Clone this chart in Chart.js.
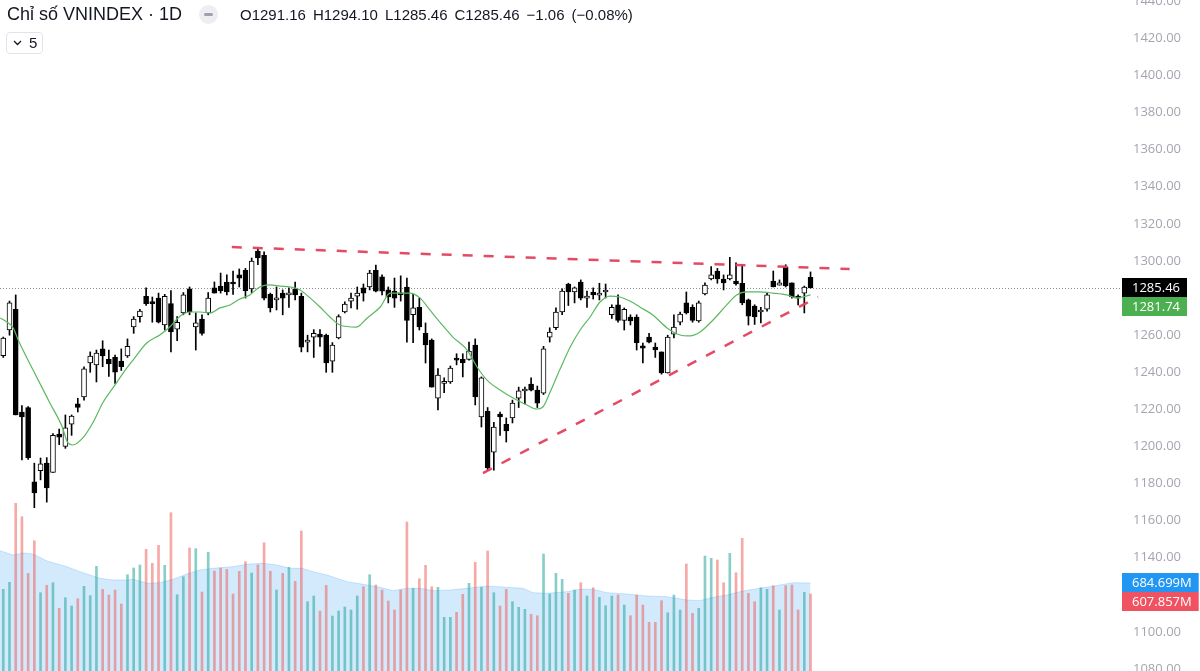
<!DOCTYPE html>
<html><head><meta charset="utf-8">
<script src="https://cdn.jsdelivr.net/npm/chart.js@4.4.1/dist/chart.umd.min.js"></script>
<style>
html,body{margin:0;padding:0;background:#fff;}
#wrap{position:relative;width:1200px;height:671px;overflow:hidden;background:#fff;}
#c{position:absolute;left:0;top:0;}
.t{position:absolute;font-family:"Liberation Sans",Arial,sans-serif;color:#131722;white-space:nowrap;}
#title{left:7px;top:2px;font-size:18px;line-height:24px;}
#ohlc{left:240px;top:5px;font-size:15px;line-height:20px;}
#ohlc span{margin-right:7px;}
#icon{position:absolute;left:199px;top:5px;width:19px;height:19px;border-radius:50%;background:#eceef1;}
#icon i{position:absolute;left:5px;top:8px;width:9px;height:3px;border-radius:1.5px;background:#9ea1a9;}
#ind{position:absolute;left:6px;top:32px;width:35px;height:20px;border:1px solid #e0e3eb;border-radius:4px;background:#fff;}
#ind svg{position:absolute;left:6px;top:7px;}
#ind span{position:absolute;left:22px;top:0px;font-family:"Liberation Sans",Arial,sans-serif;font-size:15px;line-height:20px;color:#131722;}
</style></head>
<body>
<div id="wrap">
<canvas id="c" width="1200" height="671"></canvas>
<div class="t" id="title">Chỉ số VNINDEX · 1D</div>
<div id="icon"><i></i></div>
<div class="t" id="ohlc"><span>O1291.16</span><span>H1294.10</span><span>L1285.46</span><span>C1285.46</span><span>−1.06</span><span>(−0.08%)</span></div>
<div id="ind"><svg width="9" height="6" viewBox="0 0 9 6"><path d="M1 1 L4.5 4.5 L8 1" fill="none" stroke="#131722" stroke-width="1.3"/></svg><span>5</span></div>
</div>
<script>
// ---- price data (one entry per daily candle) ----
const opens = [1249.0,1262.8,1274.0,1218.6,1221.0,1181.0,1187.0,1191.0,1186.0,1206.7,
1200.0,1212.0,1223.0,1226.7,1245.0,1244.0,1252.6,1247.0,1248.0,1246.0,
1248.8,1264.4,1270.0,1281.0,1278.0,1280.0,1265.5,1277.0,1263.3,1272.0,
1285.0,1264.4,1268.7,1272.0,1285.5,1286.5,1288.7,1288.7,1292.5,1295.0,
1285.0,1305.4,1303.0,1282.0,1279.0,1282.7,1281.7,1285.0,1281.0,1256.3,
1259.0,1260.6,1260.0,1246.0,1258.5,1272.5,1278.4,1281.0,1285.5,1286.0,
1295.0,1291.4,1284.4,1283.8,1282.7,1286.0,1271.0,1275.0,1261.0,1257.4,
1226.0,1234.0,1234.8,1247.6,1247.0,1247.0,1254.7,1216.0,1219.0,1197.0,
1217.5,1212.0,1215.4,1226.0,1229.9,1233.7,1230.4,1228.8,1259.0,1264.0,
1272.5,1287.6,1283.3,1288.7,1280.0,1283.3,1281.6,1283.3,1271.0,1276.4,
1268.0,1269.8,1269.8,1254.2,1259.0,1253.6,1251.0,1239.6,1260.6,1267.0,
1277.4,1275.0,1267.7,1282.2,1290.3,1294.6,1290.3,1290.3,1289.2,1288.0,
1279.0,1275.7,1272.5,1274.0,1289.2,1287.0,1296.8,1288.2,1280.3,1282.7,
1291.16];
const highs = [1259,1278.4,1281.7,1222,1221.5,1191,1193.8,1194,1207,1209.4,
1217,1217,1226,1243,1251,1252,1257,1252,1249.3,1252.6,
1258,1270,1274,1285.5,1280.6,1282.7,1282,1284,1270,1283,
1286,1272,1271,1283,1288.7,1293.5,1292.5,1294.6,1295.7,1296,
1301.6,1306.5,1305,1282.7,1286,1284.4,1285.5,1288.7,1282.7,1260,
1263,1263,1260.6,1256,1271,1278,1282.7,1286,1287.6,1295,
1297.8,1292.5,1286,1290.8,1292,1290.8,1282,1280,1266.6,1258,
1242,1237,1243.4,1250,1250,1256.3,1258,1237.5,1221,1213,
1218.6,1215.4,1225,1232,1232,1237,1232.6,1254,1264,1274.7,
1285,1288,1286,1289.8,1283.8,1285.5,1288,1287.6,1276.4,1281.7,
1274.7,1271,1271,1255.8,1261,1255.8,1251,1260,1271,1272.5,
1283.3,1276.4,1278.4,1288.2,1297,1296,1292.5,1302,1299,1298,
1279.5,1276.4,1275,1283,1294.6,1289.8,1298,1288.2,1281.7,1286.5,
1294.10];
const lows = [1248,1260,1217,1192.7,1193,1167,1182,1170,1186,1201,
1199,1206,1218.6,1225,1240,1234.8,1243,1237.8,1234,1241,
1248,1261,1267,1276,1267,1266.6,1262.8,1251,1257,1271,
1271,1252,1260,1271,1282.7,1282.7,1281.7,1282,1286,1280,
1283,1298,1279,1272.5,1273.6,1271,1275,1279,1251,1251,
1248,1254,1240,1240,1258,1272,1274.7,1274,1278.4,1284.4,
1283.3,1281.7,1277.4,1275,1278.4,1256.3,1256,1262.8,1245,1232,
1219.7,1229,1234,1244,1237.5,1246.6,1222.4,1210.5,1187.3,1187.3,
1206,1202.4,1212.7,1221,1223,1230,1221,1228,1256.3,1263,
1271,1276,1277.4,1279,1275,1279.5,1279,1280,1269,1267,
1262.8,1265.5,1252,1245,1255.8,1248,1239,1239.6,1258.5,1265.5,
1271.4,1267,1267,1281.7,1289.8,1288,1284.4,1289.8,1287,1276.4,
1265.5,1265.8,1266.6,1273,1286,1287,1286,1280,1276.3,1272,
1285.46];
const closes = [1258.5,1277.4,1217.0,1216.0,1194.0,1175.0,1190.7,1177.6,1206.0,1205.0,
1210.0,1216.4,1221.0,1241.8,1248.8,1250.4,1248.8,1244.5,1240.0,1243.0,
1254.0,1268.7,1273.0,1277.0,1277.0,1267.0,1281.0,1261.7,1267.0,1281.7,
1272.5,1266.6,1261.0,1280.0,1282.7,1284.0,1283.3,1287.6,1290.8,1284.0,
1300.0,1301.6,1280.0,1274.7,1279.5,1280.0,1282.7,1281.7,1253.6,1256.8,
1261.0,1259.0,1245.0,1254.7,1270.0,1276.8,1280.0,1282.7,1282.7,1293.5,
1283.8,1283.8,1280.6,1280.0,1281.7,1268.0,1274.7,1264.4,1254.7,1232.0,
1238.5,1234.4,1242.3,1246.6,1245.0,1251.5,1226.7,1237.0,1188.4,1210.5,
1216.0,1208.4,1223.4,1230.0,1231.0,1230.4,1223.4,1252.6,1261.7,1272.5,
1283.8,1283.3,1285.5,1280.0,1280.6,1281.7,1281.7,1283.4,1275.0,1268.0,
1274.0,1267.7,1256.0,1253.0,1256.3,1252.0,1239.6,1259.0,1264.4,1271.4,
1272.0,1268.0,1277.4,1287.0,1292.5,1290.3,1288.2,1292.5,1287.6,1277.4,
1270.3,1269.8,1272.6,1281.7,1286.0,1288.2,1286.5,1280.6,1280.0,1286.0,
1285.46];
// volume, millions
const volumes = [640.5,689.5,1242.5,1148.7,752.5,980.7,616.7,668.5,686.7,507.5,
581.7,523.6,574.7,661.5,595.7,801.5,640.5,600.6,635.6,537.6,
742.7,789.6,810.6,920.5,822.5,948.5,808.5,1176.7,602.7,728.7,
929.6,924.7,621.6,899.5,768.6,789.6,780.5,607.6,766.5,833.7,
754.6,810.6,966.7,766.5,635.6,752.5,794.5,696.5,1048.6,553.7,
593.6,488.6,668.5,453.6,488.6,516.6,495.6,593.6,658.7,742.7,
670.6,635.6,558.6,495.6,635.6,1111.6,647.5,714.7,808.5,658.7,
654.5,444.5,444.5,479.5,605.5,682.5,829.5,654.5,908.6,616.7,
523.6,640.5,553.7,514.5,500.5,465.5,455.7,887.6,607.6,752.5,
710.5,612.5,635.6,686.7,593.6,651.7,584.5,525.7,593.6,600.6,
530.6,455.7,600.6,530.6,409.5,409.5,560.7,476.7,600.6,495.6,
817.6,472.5,507.5,873.6,857.5,845.6,686.7,892.5,756.7,997.5,
612.5,553.7,651.7,640.5,665.7,495.6,665.7,670.6,495.6,619.5,
607.857];
// green moving-average line (candle index, value)
const maX = [-0.5,0.6,1.6,2.4,4.8,7.5,9.5,10.4,11.2,12.8,14.4,16.1,18,19.3,20.9,23.1,25.2,26.8,28.5,30.1,31.7,33.3,34.9,36.5,38.1,39.7,41.3,42.9,44.6,46.2,47.8,49.4,51,52.6,54.2,56.9,58.6,60.7,62.3,63.9,65.5,67.1,68.7,70.3,72.4,74.7,76.4,77.9,80,82.1,84.3,85.9,86.9,88,89.6,91.3,92.9,94.5,96.1,97.7,99.3,100.9,102.5,104.6,106.9,109,110.6,112.2,114.3,116.5,118.1,119.8,121.8,123.9,126.2,127.8,130];
const maY = [1269.3,1267.1,1263.9,1257.4,1241.2,1223.5,1210.5,1201.9,1200.8,1204.6,1212.7,1224,1233.2,1239.6,1246.6,1255.8,1260.1,1264.4,1270.4,1272.5,1272.5,1272,1274.7,1276.3,1279.5,1281.7,1286,1287.1,1286.5,1286,1284.4,1280.1,1275.2,1269.8,1265.5,1264.4,1269.3,1275.2,1282.7,1282.7,1282.7,1280.1,1273.6,1267.1,1259,1252,1242.3,1235.8,1230.5,1226.1,1222.4,1220.2,1221.3,1228.8,1241.2,1253.6,1262.8,1269.8,1277.9,1281.1,1280.6,1278.4,1275.2,1270.9,1263.9,1260.1,1259.6,1261.7,1268.2,1276.3,1281.7,1283.3,1283.3,1282.7,1281.7,1280.1,1281.74];
// volume moving-average area (candle index, millions)
const vmaX = [-0.53,1.56,3.17,4.78,7.04,10.26,12.35,15.57,17.66,19.92,20.89,23.14,25.23,27.33,29.58,31.67,33.77,36.99,39.24,41.82,44.07,46.17,48.1,49.87,52.12,55.35,57.92,60.66,62.75,65.01,67.1,69.2,71.93,74.67,77.89,81.11,83.69,85.3,87.55,90.77,92.86,94.96,97.21,100.43,103.65,106.87,110.09,112.19,114.28,116.53,118.63,120.72,122.97,125.07,127.16,130];
const vmaY = [910.7,880.6,894.6,887.6,838.6,798.7,763.7,717.5,705.6,705.6,710.5,682.5,686.7,710.5,747.6,775.6,787.5,798.7,815.5,822.5,810.6,787.5,787.5,763.7,740.6,693.7,675.5,654.5,630.7,647.5,647.5,630.7,635.6,647.5,663.6,654.5,647.5,616.7,612.5,623.7,640.5,640.5,616.7,607.6,593.6,588.7,565.6,560.7,584.5,600.6,623.7,640.5,654.5,670.6,686.7,684.699];
// hand-drawn trend lines (candle index, price)
const upperTrendX = [36.8, 136.3];
const upperTrendY = [1307.5, 1295.7];
const lowerTrendX = [77.25, 131.2];
const lowerTrendY = [1185.7, 1280.6];
// price axis ticks
const priceTicks = [1080,1100,1120,1140,1160,1180,1200,1220,1240,1260,1280,1300,1320,1340,1360,1380,1400,1420,1440];

const up = closes.map((c,i)=>c>=opens[i]);
const bodyData = opens.map((o,i)=>({x:i, y:[o, closes[i]]}));
const wickData = lows.map((l,i)=>({x:i, y:[l, highs[i]]}));
const volData = volumes.map((v,i)=>({x:i, y:v}));
const maData = maX.map((x,i)=>({x, y:maY[i]}));
const vmaData = vmaX.map((x,i)=>({x, y:vmaY[i]}));
const upData = upperTrendX.map((x,i)=>({x, y:upperTrendY[i]}));
const loData = lowerTrendX.map((x,i)=>({x, y:lowerTrendY[i]}));

const LABEL_FONT = '13px "Open Sans", "Noto Sans", sans-serif';

function drawBoxes(ctx, items, left){
  items.sort((a,b)=>a.y-b.y);
  let prevBottom = -1e9;
  ctx.font = LABEL_FONT;
  ctx.textBaseline = 'middle';
  ctx.textAlign = 'left';
  for(const it of items){
    const h = 19;
    let top = it.y - h/2;
    if(top < prevBottom) top = prevBottom;
    const w = ctx.measureText(it.text).width + 17;
    ctx.fillStyle = it.bg;
    ctx.fillRect(left, Math.round(top), w, h);
    ctx.fillStyle = '#ffffff';
    ctx.fillText(it.text, left + 10, Math.round(top) + h/2 + 0.5);
    prevBottom = top + h;
  }
}

const overlay = {
  id:'overlay',
  beforeDatasetsDraw(chart){
    const {ctx, chartArea, scales} = chart;
    const y = Math.round(scales.y.getPixelForValue(closes[closes.length-1])) + 0.5;
    ctx.save();
    ctx.strokeStyle = '#8a8e97';
    ctx.lineWidth = 1;
    ctx.setLineDash([1,2]);
    ctx.beginPath(); ctx.moveTo(chartArea.left, y); ctx.lineTo(chartArea.right, y); ctx.stroke();
    ctx.restore();
  },
  afterDraw(chart){
    const {ctx, chartArea, scales} = chart;
    const left = chartArea.right + 1;
    ctx.save();
    const lastC = closes[closes.length-1], lastMA = maY[maY.length-1];
    drawBoxes(ctx, [
      {y: scales.y.getPixelForValue(lastC), text: lastC.toFixed(2), bg:'#000000'},
      {y: scales.y.getPixelForValue(lastMA), text: lastMA.toFixed(2), bg:'#4caf50'}
    ], left);
    const lastV = volumes[volumes.length-1], lastVMA = vmaY[vmaY.length-1];
    drawBoxes(ctx, [
      {y: scales.yv.getPixelForValue(lastVMA), text: lastVMA.toFixed(3)+'M', bg:'#2196f3'},
      {y: scales.yv.getPixelForValue(lastV), text: lastV.toFixed(3)+'M', bg:'#f05262'}
    ], left);
    ctx.restore();
  }
};

function build(){
  new Chart(document.getElementById('c'), {
    type:'bar',
    data:{ datasets:[
      {type:'line', data:upData, borderColor:'rgba(228,64,92,0.95)', borderWidth:2.5, borderDash:[10,11], pointRadius:0, order:0, yAxisID:'y'},
      {type:'line', data:loData, borderColor:'rgba(228,64,92,0.95)', borderWidth:2.5, borderDash:[10,11], pointRadius:0, order:0, yAxisID:'y'},
      {type:'line', data:maData, borderColor:'#5cb860', borderWidth:1.2, pointRadius:0, tension:0.4, cubicInterpolationMode:'monotone', order:1, yAxisID:'y'},
      {type:'bar', data:bodyData, backgroundColor: up.map(u=>u?'#ffffff':'#000000'), borderColor:'#000000', borderWidth:1, borderSkipped:false,
        barThickness:5, grouped:false, minBarLength:2, order:2, yAxisID:'y'},
      {type:'bar', data:wickData, backgroundColor:'#000000', borderWidth:0, barThickness:1, grouped:false, order:3, yAxisID:'y'},
      {type:'bar', data:volData, backgroundColor: up.map(u=>u?'rgba(38,166,154,0.55)':'rgba(239,83,80,0.5)'), borderWidth:0,
        barThickness:2, grouped:false, order:4, yAxisID:'yv'},
      {type:'line', data:vmaData, borderColor:'rgba(33,150,243,0.22)', backgroundColor:'rgba(33,150,243,0.2)', borderWidth:1,
        fill:'start', pointRadius:0, tension:0, order:5, yAxisID:'yv'}
    ]},
    options:{
      responsive:false, animation:false, devicePixelRatio:1, events:[],
      layout:{padding:0},
      plugins:{legend:{display:false}, tooltip:{enabled:false}},
      scales:{
        x:{type:'linear', min:-0.53, max:180, offset:false, display:false, grid:{display:false}},
        y:{type:'linear', position:'right', min:1078.97, max:1440.7,
           grid:{display:false, drawTicks:false}, border:{display:false},
           afterBuildTicks(s){ s.ticks = priceTicks.map(v=>({value:v})); },
           afterFit(s){ s.width = 79; s.paddingTop = 0; s.paddingBottom = 0; },
           ticks:{padding:12, color:'#a3a6af', font:{family:'"Open Sans", "Noto Sans", sans-serif', size:13},
                  callback:(v)=>Number(v).toFixed(2)}},
        yv:{type:'linear', display:false, min:68.6, max:4765.6}
      }
    },
    plugins:[overlay]
  });
}
if (document.fonts && document.fonts.load) {
  Promise.all([document.fonts.load('13px "Open Sans"'), document.fonts.load('18px "Liberation Sans"')]).then(build, build);
} else build();
</script>
</body></html>
